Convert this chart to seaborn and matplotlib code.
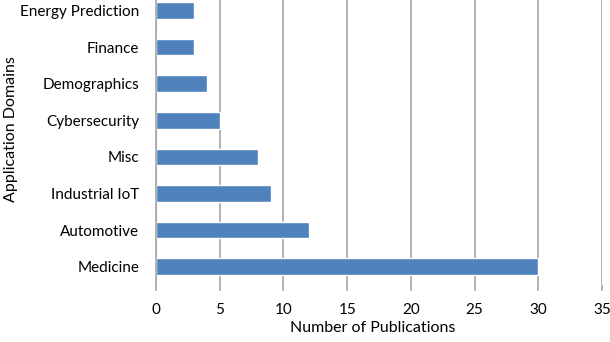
import matplotlib
matplotlib.use("Agg")
import matplotlib.pyplot as plt
import seaborn as sns
import pandas as pd

categories = ["Energy Prediction", "Finance", "Demographics", "Cybersecurity",
              "Misc", "Industrial IoT", "Automotive", "Medicine"]
publications = [3, 3, 4, 5, 8, 9, 12, 30]
x_ticks = [0, 5, 10, 15, 20, 25, 30, 35]

sns.set_theme(style="white")
plt.rcParams['font.family'] = ['Lato', 'DejaVu Sans']

df = pd.DataFrame({"domain": categories, "count": publications})

fig = plt.figure(figsize=(6.10, 3.42), dpi=100)
ax = fig.add_axes([0.2557, 0.167, 0.987 - 0.2557, 0.845])
sns.barplot(data=df, x="count", y="domain", orient="h", color="#4F81BD",
            saturation=1, width=0.45, ax=ax)
ax.set_xlim(0, 35)
ax.set_ylim(7.5, -0.4)
ax.set_xticks(x_ticks)
ax.xaxis.grid(True, color="#A6A6A6", linewidth=1.2)
ax.set_axisbelow(True)
for s in ["top", "right", "bottom"]:
    ax.spines[s].set_visible(False)
ax.spines["left"].set_color("#A6A6A6")
ax.spines["left"].set_linewidth(1.2)
ax.tick_params(axis="x", bottom=True, length=4, color="#A6A6A6", width=1.2,
               labelsize=11, pad=9, labelcolor="black")
ax.tick_params(axis="y", left=False, labelsize=11, pad=6, labelcolor="black")
ax.set_xlabel("Number of Publications", fontsize=11.5, color="black")
ax.set_ylabel("Application Domains", fontsize=11.5, color="black")
ax.xaxis.set_label_coords(0.485, -0.125)
ax.yaxis.set_label_coords(-0.31, 0.54)
fig.savefig("out.png", dpi=100)
